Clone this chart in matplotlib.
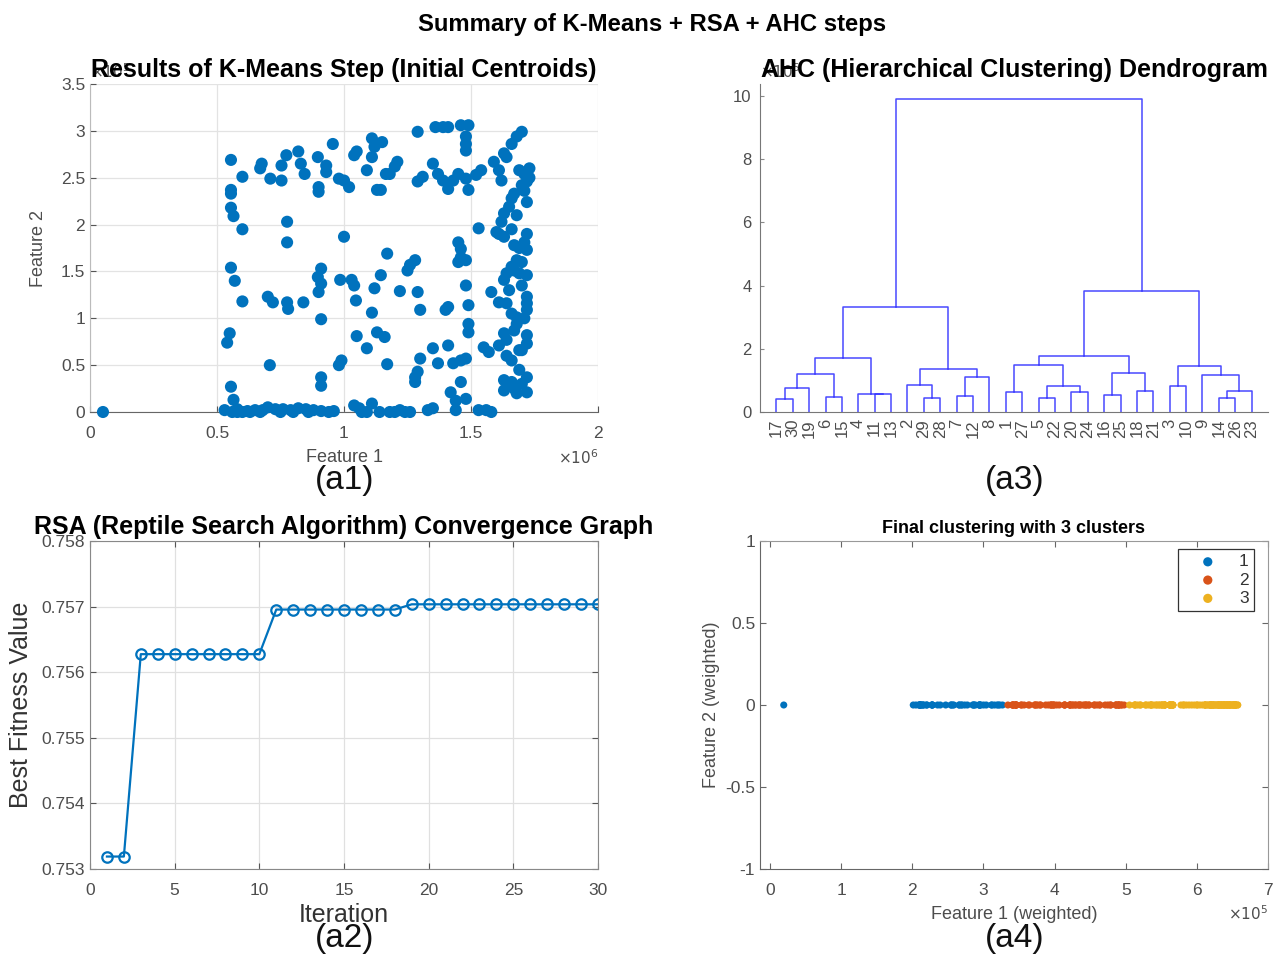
import numpy as np
import matplotlib; matplotlib.use("Agg")
import matplotlib.pyplot as plt
from matplotlib.ticker import FuncFormatter

plt.rcParams['font.family'] = ['Liberation Sans', 'DejaVu Sans']

# ---- (a1) K-Means step: feature 1 (x1e6) and feature 2 (scaled) ----
feat1 = [0.051, 0.555, 0.555, 0.555, 0.555, 0.565, 0.60, 0.60, 0.555, 0.57, 0.60, 0.55, 0.54, 0.555, 0.565,
         0.53, 0.56, 0.58, 0.60, 0.62, 0.65, 0.68, 0.70, 0.73, 0.76, 0.79, 0.82, 0.85, 0.88, 0.91, 0.94, 0.96,
         0.58, 0.63, 0.67, 0.75, 0.80, 0.86,
         0.708, 0.676, 0.67, 0.71, 0.754, 0.754, 0.773, 0.82, 0.83, 0.845, 0.776, 0.776, 0.70, 0.72, 0.776, 0.78,
         0.84, 0.897, 0.90, 0.90, 0.93, 0.93, 0.956, 0.91, 0.897, 0.91, 0.90, 0.91, 0.91, 0.91, 0.98, 0.99,
         1.0, 0.98, 1.0, 1.02, 0.985, 1.03, 1.04, 1.047, 1.05, 1.04, 1.09, 1.11, 1.12, 1.11, 1.15, 1.13, 1.145,
         1.165, 1.18, 1.20, 1.21, 1.145, 1.17, 1.12, 1.11, 1.05, 1.09, 1.13, 1.16, 1.17, 1.22, 1.25, 1.26, 1.28,
         1.29, 1.30, 1.30, 1.29, 1.28, 1.28, 1.29, 1.29, 1.31, 1.35, 1.37, 1.39, 1.41, 1.43, 1.45, 1.48, 1.49,
         1.36, 1.39, 1.41, 1.46, 1.49, 1.48, 1.48, 1.48, 1.52, 1.54, 1.45, 1.46, 1.46, 1.45, 1.48, 1.48, 1.49,
         1.49, 1.49, 1.40, 1.41, 1.41, 1.35, 1.37, 1.43, 1.46, 1.48, 1.46, 1.42, 1.44, 1.48, 1.44,
         1.04, 1.06, 1.09, 1.11, 1.18, 1.22, 1.26, 1.33, 1.35, 1.07, 1.20, 1.24, 1.14,
         1.53, 1.56, 1.58, 1.53, 1.58, 1.55, 1.57,
         1.59, 1.61, 1.62, 1.63, 1.64, 1.66, 1.68, 1.70, 1.69, 1.71, 1.72, 1.72, 1.70, 1.67, 1.66, 1.65, 1.63,
         1.62, 1.60, 1.61, 1.63, 1.67, 1.69, 1.72, 1.72, 1.71, 1.72, 1.68, 1.66, 1.64, 1.63, 1.67, 1.69, 1.72,
         1.61, 1.64, 1.72, 1.72, 1.72, 1.68, 1.68, 1.67, 1.63, 1.61, 1.64, 1.72, 1.72, 1.70, 1.66, 1.69,
         1.63, 1.63, 1.66, 1.67, 1.70, 1.72, 1.72,
         1.73, 1.73, 1.71, 1.68, 1.66, 1.70, 1.65, 1.70, 1.66, 1.71, 1.64, 1.69, 1.65, 1.68]
feat2 = [0.0, 2.69, 2.37, 2.33, 2.18, 2.09, 2.51, 1.95, 1.54, 1.40, 1.18, 0.84, 0.74, 0.27, 0.13,
         0.02, 0.0, 0.0, 0.0, 0.01, 0.02, 0.02, 0.05, 0.03, 0.03, 0.02, 0.04, 0.03, 0.02, 0.01, 0.0, 0.01,
         0.03, 0.0, 0.0, 0.0, 0.0, 0.0,
         0.50, 2.65, 2.60, 2.49, 2.63, 2.47, 2.74, 2.78, 2.65, 2.54, 2.03, 1.81, 1.23, 1.17, 1.17, 1.10,
         1.17, 2.72, 2.40, 2.35, 2.63, 2.56, 2.86, 1.53, 1.44, 1.37, 1.28, 0.99, 0.37, 0.28, 0.50, 0.55,
         1.87, 2.49, 2.47, 2.40, 1.41, 1.41, 1.35, 1.19, 2.78, 2.74, 2.58, 2.92, 2.83, 2.72, 2.88, 2.37, 2.37,
         2.54, 2.54, 2.62, 2.67, 1.46, 1.69, 1.32, 1.06, 0.81, 0.68, 0.85, 0.80, 0.51, 1.29, 1.51, 1.57, 1.62,
         1.28, 1.09, 0.57, 0.43, 0.37, 0.32, 2.99, 2.46, 2.51, 2.65, 2.54, 2.47, 2.38, 2.47, 2.54, 2.49, 2.37,
         3.04, 3.04, 3.04, 3.06, 3.06, 2.94, 2.86, 2.79, 2.53, 2.58, 1.81, 1.74, 1.65, 1.60, 1.62, 1.35, 1.14,
         0.94, 0.85, 1.09, 1.12, 0.71, 0.68, 0.52, 0.52, 0.55, 0.57, 0.32, 0.21, 0.12, 0.14, 0.02,
         0.07, 0.04, 0.0, 0.09, 0.0, 0.02, 0.0, 0.02, 0.04, 0.0, 0.0, 0.0, 0.0,
         0.02, 0.02, 0.0, 1.96, 1.28, 0.69, 0.64,
         2.67, 2.58, 2.47, 2.76, 2.72, 2.86, 2.94, 2.99, 2.58, 2.54, 2.56, 2.46, 2.42, 2.33, 2.28, 2.19, 2.12,
         2.03, 1.92, 1.90, 1.87, 1.78, 1.75, 2.24, 1.90, 1.81, 1.73, 1.62, 1.55, 1.48, 1.41, 1.51, 1.48, 1.46,
         1.17, 1.16, 1.23, 1.16, 1.09, 1.01, 0.94, 0.87, 0.84, 0.71, 0.77, 0.82, 0.73, 0.66, 0.55, 0.66,
         0.34, 0.23, 0.32, 0.25, 0.30, 0.37, 0.21,
         2.50, 2.60, 2.36, 2.10, 1.95, 1.60, 1.30, 1.35, 1.05, 1.00, 0.60, 0.45, 0.28, 0.20]

# ---- (a2) RSA convergence ----
iterations = list(range(1, 31))
best_fitness = [0.75319, 0.75319] + [0.756275] * 8 + [0.756955] * 8 + [0.757035] * 12

# ---- (a3) AHC dendrogram: (left, right, height); ints are leaves, "cN" earlier merges ----
leaf_order = [17, 30, 19, 6, 15, 4, 11, 13, 2, 29, 28, 7, 12, 8, 1, 27, 5, 22, 20, 24, 16, 25, 18, 21,
              3, 10, 9, 14, 26, 23]
ahc_merges = [
    (17, 30, 0.40), ("c0", 19, 0.76), (6, 15, 0.49), ("c1", "c2", 1.19), (11, 13, 0.56), (4, "c4", 0.58),
    ("c3", "c5", 1.72), (29, 28, 0.43), (2, "c7", 0.87), (7, 12, 0.51), ("c9", 8, 1.11), ("c8", "c10", 1.37),
    ("c6", "c11", 3.32), (1, 27, 0.63), (5, 22, 0.44), (20, 24, 0.62), ("c14", "c15", 0.81),
    ("c13", "c16", 1.50), (16, 25, 0.53), (18, 21, 0.67), ("c18", "c19", 1.24), ("c17", "c20", 1.76),
    (3, 10, 0.83), (14, 26, 0.43), ("c23", 23, 0.67), (9, "c24", 1.18), ("c22", "c25", 1.46),
    ("c21", "c26", 3.82), ("c12", "c27", 9.90)]

# ---- (a4) final clustering: weight on feature 1 and cluster boundaries (x1e5) ----
feat1_weight = 3.8
cluster_edges = [3.3, 5.0]
cluster_names = ["1", "2", "3"]
cluster_colors = ["#0072BD", "#D95319", "#EDB120"]

W, H = 1281, 956
def box(l, t, r, b):
    return [l / W, 1 - b / H, (r - l) / W, (b - t) / H]

TICK = "#4d4d4d"
fig = plt.figure(figsize=(W / 100, H / 100), dpi=100)
fig.suptitle("Summary of K-Means + RSA + AHC steps", x=652 / W, y=1 - 24 / H, va="center",
             fontsize=17.2, fontweight="bold")
gfmt = FuncFormatter(lambda v, p: f"{v:g}")

# (a1)
ax1 = fig.add_axes(box(90, 84, 598, 412))
ax1.scatter(feat1, feat2, s=76, color="#0072BD", edgecolors="none", zorder=3, clip_on=False)
ax1.set_xlim(0, 2); ax1.set_ylim(0, 3.5)
ax1.set_xticks([0, 0.5, 1, 1.5, 2]); ax1.set_yticks(np.arange(0, 3.6, 0.5))
ax1.xaxis.set_major_formatter(gfmt); ax1.yaxis.set_major_formatter(gfmt)
ax1.grid(True, color="#e3e3e3", lw=0.9)
for s in ["top", "right"]: ax1.spines[s].set_visible(False)
ax1.spines["left"].set_color("#bbbbbb"); ax1.spines["bottom"].set_color("#666666")
ax1.tick_params(direction="in", labelsize=12.5, labelcolor=TICK, color="#555555", length=4)
ax1.tick_params(axis="x", pad=10)
ax1.set_xlabel("Feature 1", fontsize=13, color=TICK, labelpad=6)
ax1.set_ylabel("Feature 2", fontsize=13, color=TICK, labelpad=10)
ax1.set_title("Results of K-Means Step (Initial Centroids)", fontsize=18, fontweight="bold", pad=5)
fig.text(558 / W, 1 - 458 / H, r"$\times10^{6}$", fontsize=11, color=TICK, va="center")
fig.text(90 / W, 1 - 72 / H, r"$\times10^{5}$", fontsize=11, color=TICK, va="center", zorder=-1)

# (a3)
ax3 = fig.add_axes(box(760, 84, 1268, 412))
nodes = {}
def node_pos(k):
    return nodes[k] if isinstance(k, str) else (leaf_order.index(k) + 1, 0.0)
for i, (a, b, h) in enumerate(ahc_merges):
    xa, ha = node_pos(a); xb, hb = node_pos(b)
    ax3.plot([xa, xa, xb, xb], [ha, h, h, hb], color="#2a2aff", lw=1.1, alpha=0.85)
    nodes[f"c{i}"] = ((xa + xb) / 2, h)
ax3.set_xlim(0, len(leaf_order) + 1); ax3.set_ylim(0, 10.38)
ax3.set_xticks(range(1, len(leaf_order) + 1))
ax3.set_xticklabels([str(v) for v in leaf_order], rotation=90, fontsize=12, color=TICK)
ax3.set_yticks([0, 2, 4, 6, 8, 10])
ax3.tick_params(axis="y", direction="in", labelsize=12, labelcolor=TICK, color="#888888", length=3, pad=6)
ax3.tick_params(axis="x", length=0, pad=5)
for s in ["top", "right"]: ax3.spines[s].set_visible(False)
for s in ["left", "bottom"]: ax3.spines[s].set_color("#777777")
ax3.set_title("AHC (Hierarchical Clustering) Dendrogram", fontsize=18, fontweight="bold", pad=5)
fig.text(760 / W, 1 - 72 / H, r"$\times10^{5}$", fontsize=11, color=TICK, va="center", zorder=-1)

# (a2)
ax2 = fig.add_axes(box(90, 541, 598, 869))
ax2.plot(iterations, best_fitness, "-o", color="#0072BD", lw=1.6, ms=7.5, mfc="none", mew=1.6)
ax2.set_xlim(0, 30); ax2.set_ylim(0.753, 0.758)
ax2.set_xticks(range(0, 31, 5)); ax2.set_yticks(np.arange(0.753, 0.7585, 0.001))
ax2.yaxis.set_major_formatter(FuncFormatter(lambda v, p: f"{v:.3f}"))
ax2.grid(True, color="#e0e0e0", lw=0.9)
for s in ax2.spines.values(): s.set_color("#888888")
ax2.tick_params(direction="in", top=True, right=True, labelsize=12.5, labelcolor=TICK, length=4, color="#555555")
ax2.tick_params(axis="x", pad=10)
ax2.set_xlabel("Iteration", fontsize=18, color="#333333", labelpad=4)
ax2.set_ylabel("Best Fitness Value", fontsize=18, color="#333333", labelpad=6)
ax2.set_title("RSA (Reptile Search Algorithm) Convergence Graph", fontsize=18, fontweight="bold", pad=5)

# (a4)
ax4 = fig.add_axes(box(760, 541, 1268, 869))
f1w = np.array(feat1) * feat1_weight
labels = np.digitize(f1w, cluster_edges)
for k, (name, col) in enumerate(zip(cluster_names, cluster_colors)):
    sel = f1w[labels == k]
    ax4.scatter(sel, np.zeros_like(sel), s=26, color=col, edgecolors="none", label=name)
ax4.set_xlim(-0.14, 7); ax4.set_ylim(-1, 1)
ax4.set_xticks(range(0, 8)); ax4.set_yticks([-1, -0.5, 0, 0.5, 1])
ax4.yaxis.set_major_formatter(gfmt)
for s in ax4.spines.values(): s.set_color("#999999")
for s in ["left", "bottom"]: ax4.spines[s].set_color("#666666")
ax4.tick_params(direction="in", top=True, right=True, labelsize=12.5, labelcolor=TICK, color="#666666", length=4)
ax4.tick_params(axis="x", pad=10)
ax4.set_xlabel("Feature 1 (weighted)", fontsize=13, color=TICK, labelpad=6)
ax4.set_ylabel("Feature 2 (weighted)", fontsize=13, color=TICK, labelpad=4)
ax4.set_title("Final clustering with 3 clusters", fontsize=13, fontweight="bold", pad=6)
leg = ax4.legend(loc="upper right", bbox_to_anchor=((1254 - 760) / 508, 1 - 8 / 328), fontsize=12.5,
                 fancybox=False, edgecolor="#333333", framealpha=1, handlelength=2.8, handletextpad=0.4,
                 borderpad=0.3, labelspacing=0.18, markerscale=1.3, borderaxespad=0)
leg.get_frame().set_linewidth(0.9)
for t in leg.get_texts(): t.set_color("#333333")
fig.text(1228 / W, 1 - 914 / H, r"$\times10^{5}$", fontsize=11, color=TICK, va="center")

# panel tags
for tag, (px, py) in {"(a1)": (345, 480), "(a3)": (1015, 480), "(a2)": (345, 938), "(a4)": (1015, 938)}.items():
    fig.text(px / W, 1 - py / H, tag, fontsize=24, ha="center", va="center", color="#111111")

fig.savefig("out.png", dpi=100)
